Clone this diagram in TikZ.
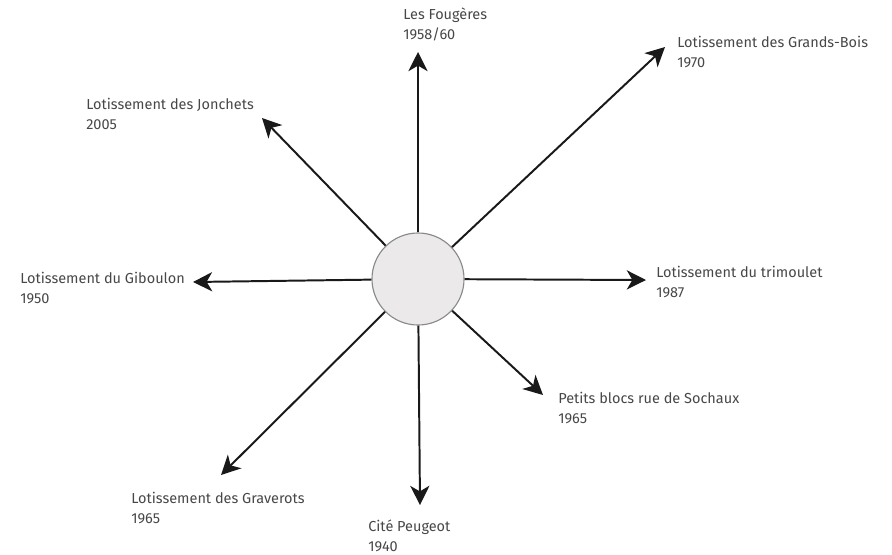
\documentclass[tikz,border=0pt]{standalone}
\usepackage{fontspec}
\setmainfont{Fira Sans}
\usetikzlibrary{arrows.meta}
\definecolor{hubfill}{HTML}{EBE9EA}
\definecolor{hubline}{HTML}{8A8A8A}
\definecolor{labelgray}{HTML}{474747}
\tikzset{
	spoke/.style={-{Stealth[length=4.8mm,width=4.8mm,inset=1.4mm]},line width=1.4pt,draw=black!90},
	place/.style={anchor=north west,align=left,inner sep=0pt,text=labelgray,font=\fontsize{10.3}{14.2}\selectfont}
}
\begin{document}
\begin{tikzpicture}[x=0.025cm,y=-0.025cm]
		\useasboundingbox (0,0) rectangle (892,554);
		\node[draw=hubline,fill=hubfill,circle,minimum size=2.3cm,line width=0.8pt] (hub) at (418,279) {};
		\coordinate (fougeresTip) at (418,52);
		\coordinate (grandsBoisTip) at (665,47);
		\coordinate (jonchetsTip) at (262,118);
		\coordinate (giboulonTip) at (193,282);
		\coordinate (trimouletTip) at (646,280);
		\coordinate (sochauxTip) at (543,395);
		\coordinate (graverotsTip) at (221,475);
		\coordinate (peugeotTip) at (420,505);
		\node[place] (fougeres) at (403,8) {Les Fougères\\1958/60};
		\node[place] (grandsBois) at (677,36) {Lotissement des Grands-Bois\\1970};
		\node[place] (jonchets) at (86,98) {Lotissement des Jonchets\\2005};
		\node[place] (giboulon) at (20,272) {Lotissement du Giboulon\\1950};
		\node[place] (trimoulet) at (656,266) {Lotissement du trimoulet\\1987};
		\node[place] (sochaux) at (558,392) {Petits blocs rue de Sochaux\\1965};
		\node[place] (graverots) at (131,492) {Lotissement des Graverots\\1965};
		\node[place] (peugeot) at (368,520) {Cité Peugeot\\1940};
		\draw[spoke] (hub) -- (fougeresTip);
		\draw[spoke] (hub) -- (grandsBoisTip);
		\draw[spoke] (hub) -- (jonchetsTip);
		\draw[spoke] (hub) -- (giboulonTip);
		\draw[spoke] (hub) -- (trimouletTip);
		\draw[spoke] (hub) -- (sochauxTip);
		\draw[spoke] (hub) -- (graverotsTip);
		\draw[spoke] (hub) -- (peugeotTip);
	\end{tikzpicture}
\end{document}
